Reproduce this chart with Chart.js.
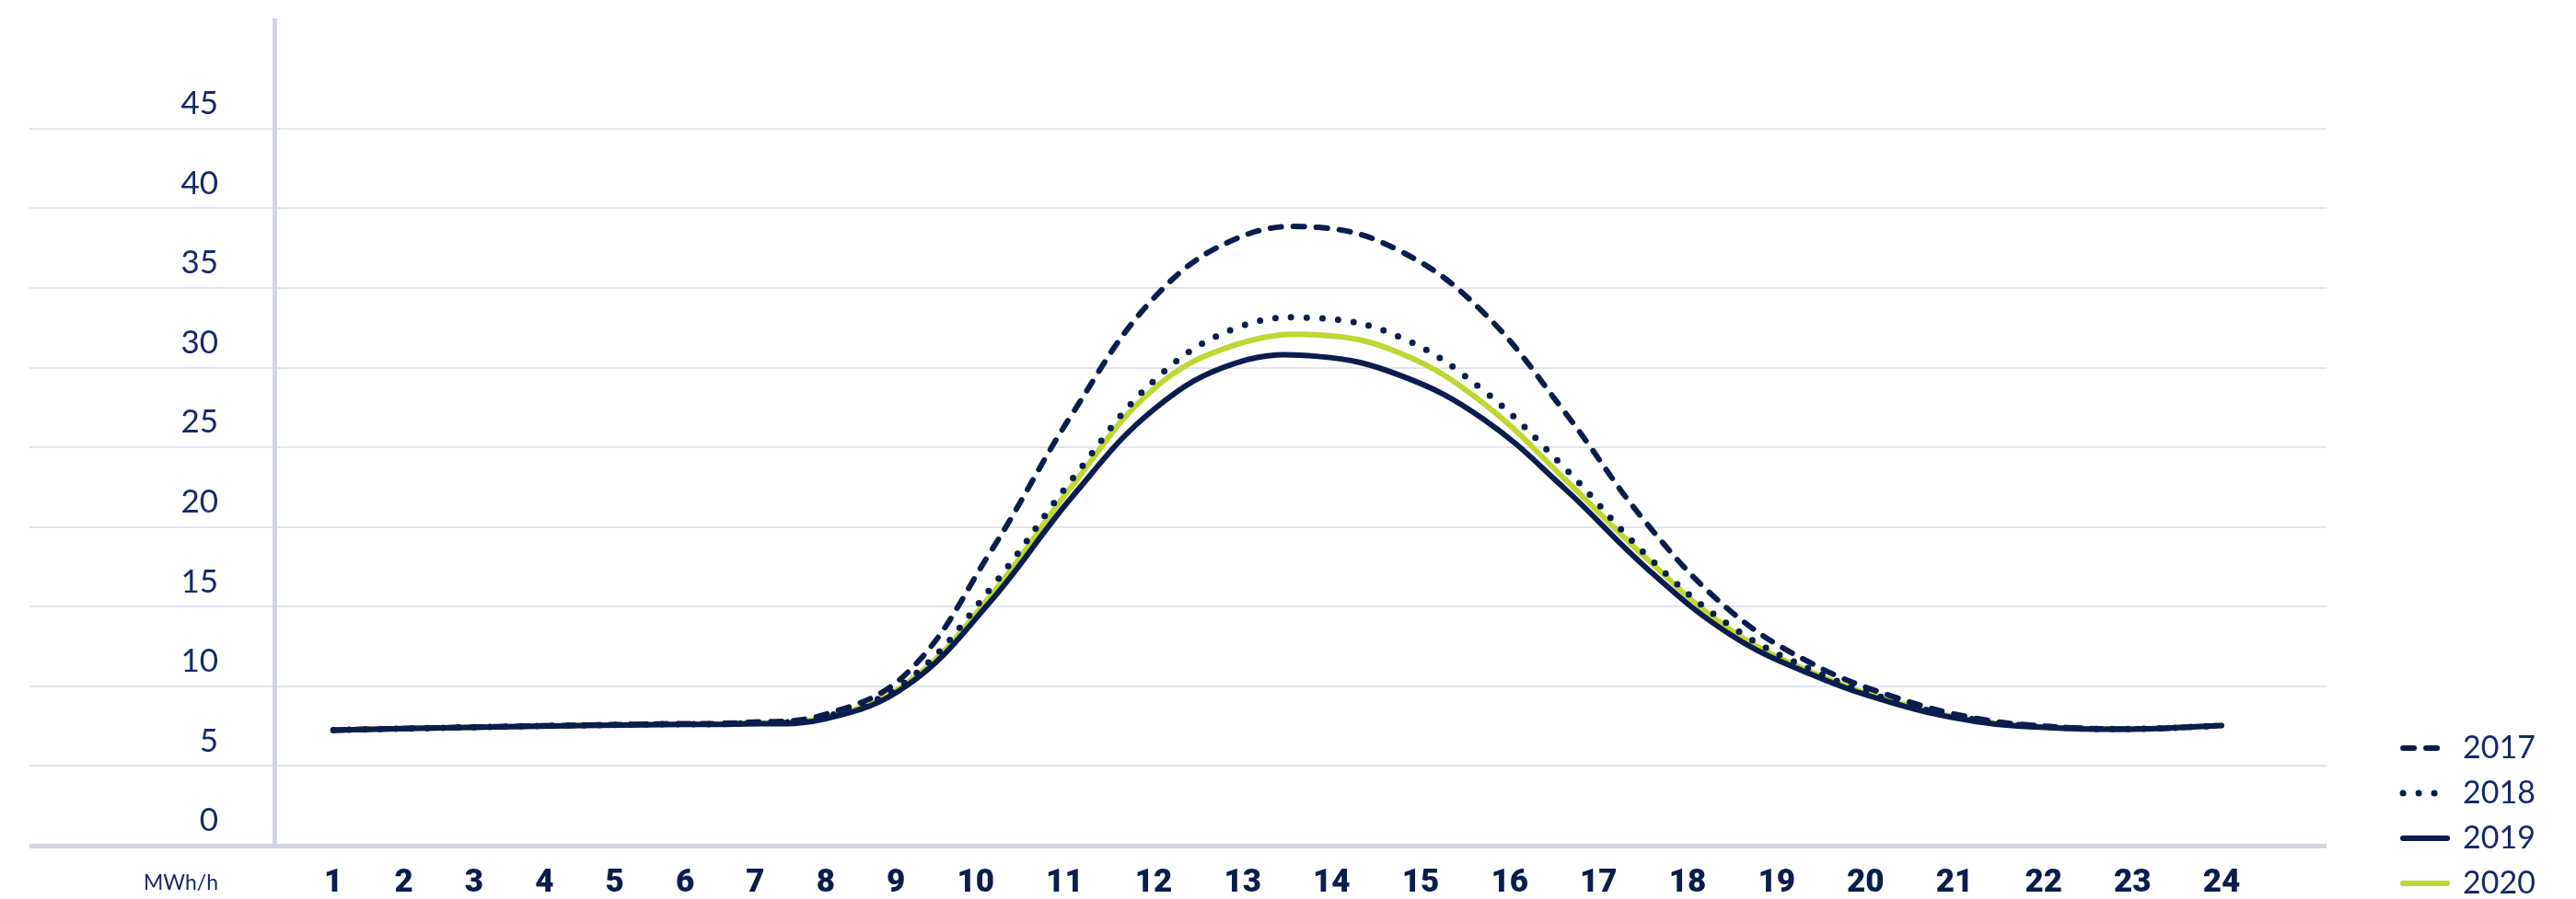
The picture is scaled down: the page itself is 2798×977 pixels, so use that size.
<!DOCTYPE html>
<html>
<head>
<meta charset="utf-8">
<script src="https://cdn.jsdelivr.net/npm/chart.js@4.4.1/dist/chart.umd.min.js"></script>
<style>
  html, body { margin: 0; padding: 0; background: #fff; }
  #wrap { width: 2798px; height: 977px; }
</style>
</head>
<body>
<div id="wrap"><canvas id="hourlyChart" width="2798" height="977"></canvas></div>
<script>
const hours = [1, 2, 3, 4, 5, 6, 7, 8, 9, 10, 11, 12, 13, 14, 15, 16, 17, 18, 19, 20, 21, 22, 23, 24];
const years = ['2017', '2018', '2019', '2020'];

const y2017 = [7.25, 7.37, 7.47, 7.56, 7.64, 7.73, 8.25, 10.9, 18.4, 27.1, 34.4, 38.1, 38.8, 37.3, 33.5, 27.2, 20.2, 14.8, 11.45, 9.35, 8.0, 7.45, 7.33, 7.54];
const y2018 = [7.25, 7.36, 7.46, 7.55, 7.62, 7.68, 8.1, 10.4, 16.1, 23.0, 29.2, 32.5, 33.1, 31.9, 28.6, 23.7, 18.2, 13.85, 11.05, 9.1, 7.9, 7.42, 7.33, 7.54];
const y2019 = [7.25, 7.36, 7.45, 7.53, 7.6, 7.64, 7.96, 10.1, 15.3, 21.9, 27.4, 30.3, 30.7, 29.5, 26.8, 22.4, 17.4, 13.3, 10.75, 8.95, 7.8, 7.38, 7.32, 7.54];
const y2020 = [7.25, 7.36, 7.46, 7.54, 7.61, 7.66, 8.05, 10.25, 15.65, 22.6, 28.7, 31.45, 32.05, 30.9, 27.8, 23.0, 18.0, 13.6, 10.9, 9.05, 7.85, 7.4, 7.32, 7.54];

const yTickValues = [0, 5, 10, 15, 20, 25, 30, 35, 40, 45];
const unitLabel = 'MWh/h';

const navy = '#0a1d4e';
const lime = '#bfd633';
const gridColor = '#e2e5ee';
const axisColor = '#d0d5e1';
const textColor = '#17296a';

function points(vals) {
  return vals.map((v, i) => ({ x: hours[i], y: v }));
}

// hour numbers are set as one spaced row of text, from the first hour to the last
const hourRow = {
  id: 'hourRow',
  afterDraw(chart) {
    const ctx = chart.ctx, x = chart.scales.x, y = chart.scales.y;
    const rowY = x.top + 41;
    ctx.save();
    ctx.font = '900 35px Roboto, "DejaVu Sans", sans-serif';
    ctx.fillStyle = navy;
    ctx.textBaseline = 'middle';
    ctx.textAlign = 'left';
    const labels = hours.map(String);
    const widths = labels.map(l => ctx.measureText(l).width);
    const first = x.getPixelForValue(hours[0]);
    const last = x.getPixelForValue(hours[hours.length - 1]);
    const span = (last + widths[widths.length - 1] / 2) - (first - widths[0] / 2);
    const gap = (span - widths.reduce((a, b) => a + b, 0)) / (labels.length - 1);
    let cx = first - widths[0] / 2;
    labels.forEach((l, i) => {
      ctx.fillText(l, cx, rowY);
      cx += widths[i] + gap;
    });

    ctx.font = '400 23px Lato, sans-serif';
    ctx.fillStyle = textColor;
    ctx.textAlign = 'right';
    ctx.fillText(unitLabel, y.right - y.options.grid.tickLength - y.options.ticks.padding, rowY);
    ctx.restore();
  }
};

document.addEventListener("DOMContentLoaded", function() {
  window.hourlyChart = new Chart(document.getElementById("hourlyChart").getContext("2d"), {
    type: 'line',
    data: {
      datasets: [
        { label: years[0], data: points(y2017), borderColor: navy, borderWidth: 6, borderDash: [12, 13], borderCapStyle: 'round' },
        { label: years[1], data: points(y2018), borderColor: navy, borderWidth: 7, borderDash: [0, 17], borderCapStyle: 'round' },
        { label: years[2], data: points(y2019), borderColor: navy, borderWidth: 6, borderCapStyle: 'round' },
        { label: years[3], data: points(y2020), borderColor: lime, borderWidth: 6, borderCapStyle: 'round' }
      ]
    },
    options: {
      responsive: false,
      animation: false,
      devicePixelRatio: 1,
      layout: { padding: { left: 32, top: 22, right: 34, bottom: -15 } },
      elements: {
        point: { radius: 0, hoverRadius: 0 },
        line: { tension: 0.4, borderJoinStyle: 'round', fill: false }
      },
      plugins: {
        tooltip: { enabled: false },
        legend: {
          position: 'right',
          align: 'end',
          labels: {
            usePointStyle: true,
            pointStyle: 'line',
            pointStyleWidth: 48,
            padding: 15,
            color: textColor,
            font: { family: 'Lato', weight: '400', size: 34 },
            generateLabels: chart => Chart.defaults.plugins.legend.labels.generateLabels(chart).map((item, i) => {
              const ds = chart.data.datasets[i];
              item.lineDash = ds.borderDash || [];
              item.lineCap = ds.borderCapStyle;
              item.lineWidth = ds.borderWidth;
              item.strokeStyle = ds.borderColor;
              return item;
            })
          }
        }
      },
      scales: {
        x: {
          type: 'linear',
          min: 0.28,
          max: 25.28,
          grid: { display: false },
          border: { display: false },
          ticks: { display: false },
          afterFit: s => { s.height = 73; }
        },
        y: {
          min: 0,
          max: 51.8,
          afterBuildTicks: s => { s.ticks = yTickValues.map(v => ({ value: v })); },
          grid: {
            color: c => (c.tick && c.tick.value === 0) ? axisColor : gridColor,
            lineWidth: c => (c.tick && c.tick.value === 0) ? 5 : 2,
            tickLength: 266
          },
          border: { color: axisColor, width: 5 },
          ticks: {
            padding: -205,
            labelOffset: -27,
            color: textColor,
            font: { family: 'Lato', weight: '400', size: 35 }
          },
          afterFit: s => { s.width = 266; }
        },
        gap: {
          type: 'linear',
          position: 'right',
          display: true,
          grid: { display: false },
          border: { display: false },
          ticks: { display: false },
          afterFit: s => { s.width = 68; }
        }
      }
    },
    plugins: [hourRow]
  });
});
</script>
</body>
</html>
